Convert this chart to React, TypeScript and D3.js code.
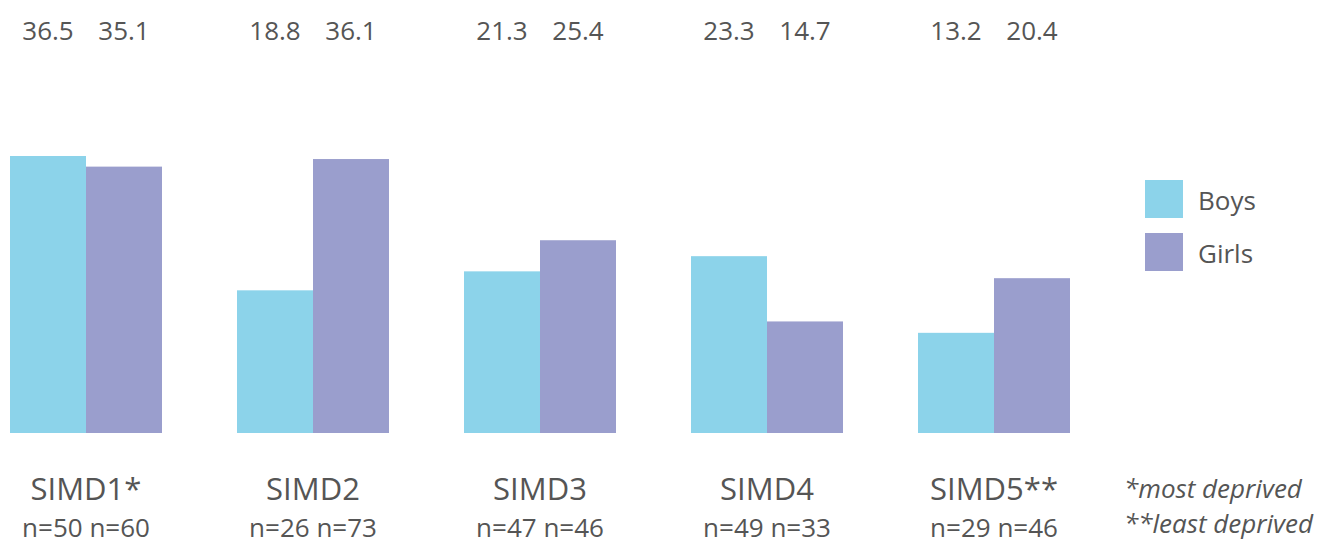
import React, {useRef, useEffect} from 'react';
import * as d3 from 'd3';

const categories = ['SIMD1*', 'SIMD2', 'SIMD3', 'SIMD4', 'SIMD5**'];
const series = ['Boys', 'Girls'];
const boys = [36.5, 18.8, 21.3, 23.3, 13.2];
const girls = [35.1, 36.1, 25.4, 14.7, 20.4];
const boysN = [50, 26, 47, 49, 29];
const girlsN = [60, 73, 46, 33, 46];
const footnotes = ['*most deprived', '**least deprived'];

const colors = ['#8cd3ea', '#9a9ecd'];
const textColor = '#555555';
const font = '"Open Sans", sans-serif';

export default function App(){
    const svgRef = useRef<SVGSVGElement>(null);

    useEffect(() => {
        const svg = d3.select(svgRef.current);
        svg.selectAll('*').remove();

        const baseline = 433;
        const xScale = d3.scaleBand<string>()
            .domain(categories)
            .range([10, 1070])
            .paddingInner(75 / 227)
            .paddingOuter(0);
        const inner = d3.scaleBand<string>()
            .domain(series)
            .range([0, xScale.bandwidth()]);
        const yScale = d3.scaleLinear()
            .domain([0, 36.5])
            .range([baseline, 156]);

        const values = [boys, girls];
        const rows = categories.map((c, i) => ({c, i}));

        const groups = svg.append('g').selectAll('g')
            .data(rows)
            .join('g')
            .attr('transform', d => `translate(${xScale(d.c)},0)`);

        series.forEach((s, si) => {
            groups.append('rect')
                .attr('x', inner(s)!)
                .attr('width', inner.bandwidth())
                .attr('y', d => yScale(values[si][d.i]))
                .attr('height', d => baseline - yScale(values[si][d.i]))
                .attr('fill', colors[si]);

            // value labels along the top
            groups.append('text')
                .attr('x', inner(s)! + inner.bandwidth() / 2)
                .attr('y', 40)
                .attr('text-anchor', 'middle')
                .attr('font-size', 26)
                .attr('fill', textColor)
                .text(d => values[si][d.i].toFixed(1));
        });

        // category + n labels
        groups.append('text')
            .attr('x', xScale.bandwidth() / 2)
            .attr('y', 500)
            .attr('text-anchor', 'middle')
            .attr('font-size', 31)
            .attr('fill', textColor)
            .text(d => d.c);
        groups.append('text')
            .attr('x', xScale.bandwidth() / 2)
            .attr('y', 537)
            .attr('text-anchor', 'middle')
            .attr('font-size', 26)
            .attr('fill', textColor)
            .text(d => `n=${boysN[d.i]} n=${girlsN[d.i]}`);

        // legend
        const legend = svg.append('g').attr('transform', 'translate(1145,180)');
        const item = legend.selectAll('g')
            .data(series)
            .join('g')
            .attr('transform', (d, i) => `translate(0,${i * 53})`);
        item.append('rect')
            .attr('width', 38)
            .attr('height', 38)
            .attr('fill', (d, i) => colors[i]);
        item.append('text')
            .attr('x', 53)
            .attr('y', 30)
            .attr('font-size', 26)
            .attr('fill', textColor)
            .text(d => d);

        // footnotes
        svg.append('g').selectAll('text')
            .data(footnotes)
            .join('text')
            .attr('x', 1124)
            .attr('y', (d, i) => 498 + i * 35)
            .attr('font-size', 26)
            .attr('font-style', 'italic')
            .attr('fill', textColor)
            .text(d => d);
    }, []);

    return (
        <svg ref={svgRef} width={1319} height={540}
            style={{position: 'absolute', left: 0, top: 0, fontFamily: font, background: '#fff'}} />
    );
}
